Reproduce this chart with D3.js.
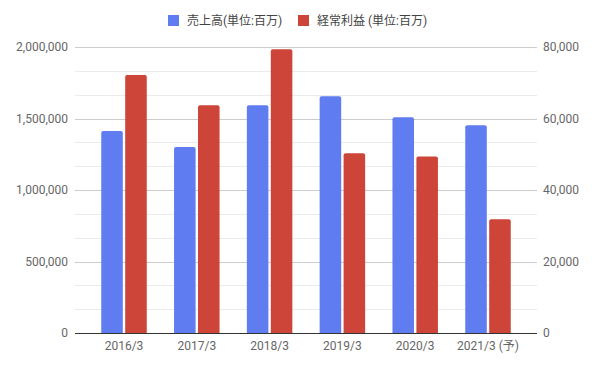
<!DOCTYPE html>
<html>
<head>
<meta charset="utf-8">
<script src="https://cdn.jsdelivr.net/npm/d3@7"></script>
<style>
  body { margin: 0; background: #fff; }
  text { font-family: Roboto, "Noto Sans CJK JP", sans-serif; }
</style>
</head>
<body>
<script>
// Categories and series values
const years = ['2016/3', '2017/3', '2018/3', '2019/3', '2020/3', '2021/3 (予)'];
const sales = [1412000, 1300000, 1592000, 1655000, 1508000, 1452000];
const ordinaryProfit = [72200, 63700, 79400, 50300, 49400, 31800];
const seriesNames = ['売上高(単位:百万)', '経常利益 (単位:百万)'];
const leftTicks = [0, 500000, 1000000, 1500000, 2000000];
const rightTicks = [0, 20000, 40000, 60000, 80000];

const width = 597, height = 369;
const colors = ['#5f7cf1', '#cd4439'];

const svg = d3.select('body').append('svg')
  .attr('width', width)
  .attr('height', height);

// Plot area
const plotLeft = 75, plotRight = 537, plotTop = 47, plotBottom = 333;

const x = d3.scaleBand()
  .domain(years)
  .range([87.6, 524.4])
  .paddingInner(0.375)
  .paddingOuter(0.1875);

const xInner = d3.scaleBand()
  .domain([0, 1])
  .range([0, x.bandwidth()])
  .paddingInner(0.1);

const yLeft = d3.scaleLinear().domain([0, 2000000]).range([plotBottom, plotTop]);
const yRight = d3.scaleLinear().domain([0, 80000]).range([plotBottom, plotTop]);

// Gridlines: major at the labelled ticks, minor in between (3 per interval)
const minorTicks = d3.range(0, 2000001, 2000000 / 12);
svg.append('g').selectAll('line')
  .data(minorTicks)
  .join('line')
  .attr('x1', plotLeft).attr('x2', plotRight)
  .attr('y1', d => Math.round(yLeft(d)) + 0.5)
  .attr('y2', d => Math.round(yLeft(d)) + 0.5)
  .attr('stroke', '#ebebeb');

svg.append('g').selectAll('line')
  .data(leftTicks.slice(1))
  .join('line')
  .attr('x1', plotLeft).attr('x2', plotRight)
  .attr('y1', d => Math.round(yLeft(d)) + 0.5)
  .attr('y2', d => Math.round(yLeft(d)) + 0.5)
  .attr('stroke', '#cccccc');

// Bars with slightly rounded tops
function barPath(x0, w, yTop, yBase, r) {
  r = Math.min(r, (yBase - yTop));
  return `M${x0},${yBase}V${yTop + r}Q${x0},${yTop} ${x0 + r},${yTop}` +
    `H${x0 + w - r}Q${x0 + w},${yTop} ${x0 + w},${yTop + r}V${yBase}Z`;
}

const groups = svg.append('g').selectAll('g')
  .data(years)
  .join('g')
  .attr('transform', d => `translate(${x(d)},0)`);

groups.append('path')
  .attr('fill', colors[0])
  .attr('d', (d, i) => barPath(xInner(0), xInner.bandwidth(), yLeft(sales[i]), plotBottom, 2));

groups.append('path')
  .attr('fill', colors[1])
  .attr('d', (d, i) => barPath(xInner(1), xInner.bandwidth(), yRight(ordinaryProfit[i]), plotBottom, 2));

// Baseline
svg.append('line')
  .attr('x1', plotLeft).attr('x2', plotRight)
  .attr('y1', plotBottom + 0.5).attr('y2', plotBottom + 0.5)
  .attr('stroke', '#333333');

// Left axis labels
const fmt = d3.format(',');
svg.append('g').selectAll('text')
  .data(leftTicks)
  .join('text')
  .attr('x', 68)
  .attr('y', d => yLeft(d))
  .attr('dy', '0.35em')
  .attr('text-anchor', 'end')
  .attr('font-size', 12)
  .attr('fill', '#666')
  .text(d => fmt(d));

// Right axis labels
svg.append('g').selectAll('text')
  .data(rightTicks)
  .join('text')
  .attr('x', 543)
  .attr('y', d => yRight(d))
  .attr('dy', '0.35em')
  .attr('text-anchor', 'start')
  .attr('font-size', 12)
  .attr('fill', '#666')
  .text(d => fmt(d));

// X labels
svg.append('g').selectAll('text')
  .data(years)
  .join('text')
  .attr('x', d => x(d) + x.bandwidth() / 2)
  .attr('y', 346)
  .attr('dy', '0.35em')
  .attr('text-anchor', 'middle')
  .attr('font-size', 12)
  .attr('fill', '#666')
  .text(d => d);

// Legend
const legendX = [168, 298];
const legend = svg.append('g').selectAll('g')
  .data(seriesNames)
  .join('g')
  .attr('transform', (d, i) => `translate(${legendX[i]},15)`);

legend.append('rect')
  .attr('width', 11).attr('height', 11)
  .attr('fill', (d, i) => colors[i]);

legend.append('text')
  .attr('x', 19)
  .attr('y', 5.5)
  .attr('dy', '0.35em')
  .attr('font-size', 12)
  .attr('fill', '#444')
  .text(d => d);
</script>
</body>
</html>
